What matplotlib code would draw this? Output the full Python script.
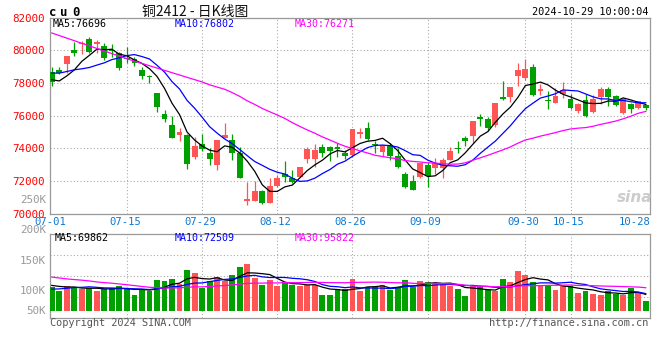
import matplotlib
matplotlib.use("Agg")
import matplotlib.pyplot as plt
import numpy as np
import pandas as pd

plt.rcParams["font.family"] = "DejaVu Sans Mono"

# cu0 daily bars 2024-07-01 .. 2024-10-29
holidays = ["2024-09-16", "2024-09-17", "2024-10-01", "2024-10-02",
            "2024-10-03", "2024-10-04", "2024-10-07"]
days = pd.bdate_range("2024-07-01", "2024-10-29")
days = days[~days.isin(pd.to_datetime(holidays))]
day_str = list(days.strftime("%m-%d"))

open_ = [78680, 78800, 79130, 80010, 80360, 80670, 80400, 80270, 80010, 79810,
         79540, 79440, 78790, 78440, 77360, 76090, 75400, 74800, 74800, 73460,
         74250, 73680, 72970, 74640, 74500, 73720, 70780, 70780, 71380, 70660,
         71680, 72420, 72170, 72250, 73320, 73320, 74090, 74090, 74050, 73720,
         73580, 74850, 75230, 74250, 73780, 74130, 73520, 72420, 71990, 72250,
         72970, 72800, 72800, 73270, 74030, 74640, 74740, 75930, 75800, 75420,
         77150, 77150, 78420, 78280, 78990, 77500, 76950, 76780, 77320, 76990,
         76270, 76950, 76230, 77150, 77620, 77190, 76170, 76700, 76480, 76620]
high = [78990, 78950, 79640, 80480, 80560, 80820, 80620, 80420, 80360, 79910,
        80180, 79600, 78990, 78480, 77360, 76340, 75970, 75220, 74850, 74660,
        74870, 73990, 74500, 75520, 74870, 74050, 71940, 72010, 71440, 72190,
        72360, 73210, 72660, 72860, 74090, 74250, 74250, 74130, 74330, 73890,
        75170, 75220, 75600, 74460, 74190, 74300, 73990, 72560, 72360, 73110,
        73170, 73380, 73380, 74050, 74460, 74740, 75660, 76090, 75890, 76780,
        78130, 77760, 79230, 79440, 79150, 77930, 77500, 77660, 78070, 77320,
        76780, 77320, 77250, 77760, 77730, 77240, 77050, 76780, 76910, 76700]
low = [77810, 78540, 78620, 79640, 79770, 79810, 79810, 79400, 79600, 78790,
       79200, 79030, 78220, 77970, 76230, 75620, 74640, 74440, 72740, 73320,
       73840, 72970, 72660, 74600, 73270, 72150, 70520, 70780, 70580, 70620,
       71620, 71940, 71880, 72210, 73070, 72860, 73480, 73230, 73480, 73320,
       73480, 74640, 74500, 73720, 73520, 73270, 72800, 71580, 71440, 72150,
       71640, 72420, 72190, 73270, 73680, 74130, 74330, 75360, 75070, 75310,
       76950, 76840, 77810, 78170, 77210, 77240, 76380, 76780, 77050, 76380,
       76170, 75930, 76170, 76700, 76580, 76580, 76070, 76130, 76420, 76340]
close = [78070, 78600, 79640, 79840, 80420, 79910, 80480, 79500, 79970, 78890,
         79440, 79200, 78440, 78360, 76540, 75770, 74640, 74970, 73010, 74110,
         73950, 73350, 74500, 74790, 73680, 72190, 70870, 71380, 70660, 71680,
         72170, 72250, 71940, 72860, 73950, 73890, 73680, 73840, 73930, 73520,
         75170, 74970, 74540, 74170, 74190, 73520, 72860, 71640, 71440, 73070,
         72310, 73070, 73270, 73840, 73930, 74460, 75660, 75800, 75210, 76780,
         77010, 77760, 78790, 78830, 77250, 77600, 76890, 77190, 77560, 76440,
         76700, 75970, 76990, 77620, 77150, 76640, 76990, 76380, 76890, 76480]
volume = [99600, 83000, 103800, 99600, 90100, 95500, 83000, 92500, 95500, 102500,
          90100, 67600, 92500, 81800, 127400, 123300, 131600, 113300, 171400, 158900,
          96700, 123300, 141100, 123300, 148200, 182600, 196300, 138200, 109100, 129900,
          102500, 120400, 106700, 102500, 109100, 109100, 67600, 67600, 92500, 90100,
          132800, 83000, 100800, 98400, 107900, 87200, 98400, 128700, 98400, 124500,
          120400, 115000, 115000, 103800, 91300, 62300, 103800, 98400, 87200, 83000,
          132800, 120400, 167200, 149400, 121600, 103800, 103800, 87200, 103800, 103800,
          75900, 83000, 70600, 66400, 83000, 69300, 66400, 94200, 73500, 41500]

# sessions before 07-01 (not drawn), estimated from where the MA lines start
prior_close = [83340, 84380, 84580, 85160, 84650, 85220, 84240, 84710, 83630, 84180,
               83460, 82700, 82620, 80800, 80030, 78900, 79230, 77270, 78370, 78210,
               78600, 78660, 78790, 79810, 79110, 79000, 78100, 78000, 77800]
prior_volume = [199200, 215800, 182600, 166000, 190900, 207500, 178500, 170200, 195100, 186800,
                174300, 199200, 182600, 166000, 186800, 112100, 95500, 107900, 99600, 103800,
                70600, 78900, 66400, 83000, 74700, 103800, 116200, 99600, 112100]

ma_windows = [5, 10, 30]
price_ma_text = [76696, 76802, 76271]
vol_ma_text = [69862, 72509, 95822]
date_labels = ["07-01", "07-15", "07-29", "08-12", "08-26", "09-09", "09-30", "10-15", "10-28"]

RED, GREEN = "#ff5555", "#00a000"
MA_COLORS = ["#000000", "#0000ff", "#ff00ff"]
GRID = dict(color="#aaaaaa", lw=0.8, ls=(0, (1, 2)))
W, H = 660, 360


def fx(px):
    return px / W


def fy(py):
    return 1 - py / H


fig = plt.figure(figsize=(W / 100, H / 100), dpi=100)
ax = fig.add_axes([fx(50), fy(213.5), 600 / W, 196 / H])
axv = fig.add_axes([fx(50), fy(318), 600 / W, 84 / H])

x = np.arange(len(close))
o, c = np.array(open_), np.array(close)
colors = np.where(c >= o, RED, GREEN)

# candles
ax.vlines(x, low, high, colors=colors, lw=0.9, zorder=3)
ax.bar(x, np.maximum(np.abs(c - o), 45), bottom=np.minimum(o, c), width=0.78,
       color=colors, lw=0, zorder=4)

n = len(prior_close)
c_all = pd.Series(prior_close + close, dtype=float)
v_all = pd.Series(prior_volume + volume, dtype=float)
for w, col in zip(ma_windows, MA_COLORS):
    ax.plot(x, c_all.rolling(w).mean().iloc[n:].values, color=col, lw=0.9, zorder=5)
    axv.plot(x, v_all.rolling(w).mean().iloc[n:].values, color=col, lw=0.9, zorder=5)

axv.bar(x, volume, width=0.78, color=colors, lw=0, zorder=3)

# axes cosmetics
idx = [day_str.index(d) for d in date_labels]
grid_idx = idx[1:-1]
for a in (ax, axv):
    a.set_xlim(-0.23, 79.57)
    a.set_xticks(grid_idx)
    a.tick_params(axis="x", length=0, labelbottom=False)
    a.grid(True, **GRID)
    a.set_axisbelow(True)
    for s in a.spines.values():
        s.set_color("#999999")
        s.set_linewidth(0.9)

ax.set_ylim(70000, 82000)
ax.set_yticks(np.arange(70000, 82001, 2000))
ax.tick_params(axis="y", length=0, pad=4, labelsize=7.8, labelcolor="#ff0000")

vlo, vhi = -29050, 319550
axv.set_ylim(vlo, vhi)
axv.set_yticks(vlo + (vhi - vlo) * np.array([0.25, 0.5, 0.75]))
axv.tick_params(axis="y", length=0, labelleft=False)

for i, d in zip(idx, date_labels):
    ax.text(np.clip(i - 0.25, -0.65, 77.5), -0.042, d, transform=ax.get_xaxis_transform(),
            ha="center", va="center", fontsize=7.6, color="#0a78d2")

# volume axis labels (placed as on the original)
for lab, py in zip(["250K", "200K", "150K", "100K", "50K"], [200, 230, 260.7, 290.7, 310.7]):
    fig.text(fx(46), fy(py), lab, ha="right", va="center", fontsize=7.8, color="#999999")

# MA legends
for k, (w, col) in enumerate(zip(ma_windows, MA_COLORS)):
    fig.text(fx([53, 175, 295][k]), fy(23.7), f"MA{w}:{price_ma_text[k]}",
             ha="left", va="center", fontsize=7.2, color=col)
    fig.text(fx([55, 175, 295][k]), fy(238), f"MA{w}:{vol_ma_text[k]}",
             ha="left", va="center", fontsize=7.2, color=col)

# header
for k, ch in enumerate("cu0"):
    fig.text(fx(49 + 11.5 * k), fy(12), ch, ha="left", va="center",
             fontsize=8.8, fontweight="bold", color="#000000")
fig.text(fx(195), fy(12), "铜2412 - 日K线图", ha="center", va="center", fontsize=10,
         family=["Noto Sans CJK SC", "DejaVu Sans"], color="#111111")
fig.text(fx(648.5), fy(12), "2024-10-29 10:00:04", ha="right", va="center",
         fontsize=7.4, color="#000000")

# footer and watermark
fig.text(fx(50), fy(323.5), "Copyright 2024 SINA.COM", ha="left", va="center",
         fontsize=7.4, color="#555555")
fig.text(fx(648.5), fy(323.5), "http://finance.sina.com.cn", ha="right", va="center",
         fontsize=7.4, color="#555555")
fig.text(fx(635), fy(197), "sina", ha="center", va="center", fontsize=11,
         style="italic", fontweight="bold", color="#cccccc", family="DejaVu Sans")

fig.savefig("out.png", dpi=100)
